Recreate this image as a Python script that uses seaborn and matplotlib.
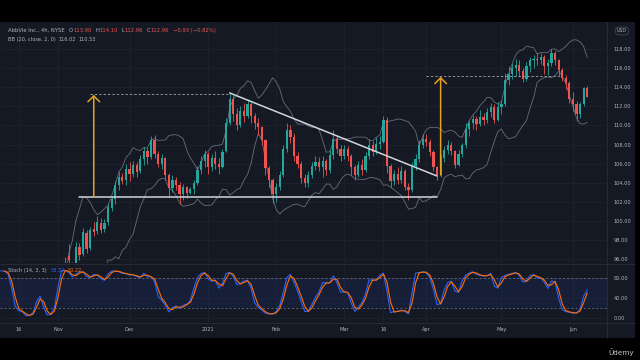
import numpy as np
import pandas as pd
import matplotlib
matplotlib.use("Agg")
import matplotlib.pyplot as plt
from matplotlib.patches import Rectangle
from matplotlib.lines import Line2D
import seaborn as sns

# ---------------- data (daily-resolution reading of the 4h chart) ----------------
HOLIDAYS = ["2020-11-26", "2020-12-25", "2021-01-01", "2021-01-18",
            "2021-02-15", "2021-04-02", "2021-05-31"]
DATES = pd.bdate_range("2020-09-30", "2021-06-07").difference(pd.to_datetime(HOLIDAYS))

OPEN = [87.4,
        # Oct
        87.6, 87.8, 87.5, 88.5, 88.0, 89.1, 89.9, 90.5, 91.0, 90.9, 88.9, 88.2, 88.7, 88.0, 87.3, 86.9, 87.1, 87.6, 87.2, 85.9, 84.9, 84.7,
        # Nov
        85.6, 88.4, 92.5, 96.3, 95.5, 94.6, 97.3, 96.5, 98.7, 97.2, 99.1, 98.9, 99.8, 99.1, 99.9, 101.4, 102.3, 103.8, 104.6, 104.3,
        # Dec
        105.4, 104.9, 105.9, 105.2, 106.5, 107.3, 106.7, 108.5, 107.0, 106.0, 106.6, 104.8, 103.4, 104.3, 103.8, 102.8, 103.5, 102.9, 103.3, 104.0, 105.3, 106.3,
        # Jan
        107.0, 105.6, 106.6, 106.0, 105.6, 107.3, 110.2, 112.8, 111.2, 110.0, 111.5, 111.0, 112.2, 111.0, 110.3, 109.8, 108.5, 105.5, 104.3,
        # Feb
        102.8, 103.5, 104.8, 107.5, 109.5, 108.8, 106.8, 106.0, 104.5, 104.0, 104.8, 105.8, 106.2, 105.6, 106.3, 105.3, 106.9, 108.6, 107.5,
        # Mar
        106.8, 107.5, 106.8, 105.6, 104.8, 105.9, 105.3, 106.8, 107.9, 107.2, 108.1, 108.3, 110.6, 105.8, 104.2, 104.9, 104.3, 105.2, 103.6, 103.2, 105.8, 106.5, 108.0,
        # Apr
        108.6, 108.3, 107.2, 105.6, 104.8, 106.6, 107.4, 108.0, 107.3, 105.9, 107.0, 107.9, 109.6, 110.2, 110.7, 110.1, 110.9, 110.6, 111.4, 111.9, 110.6,
        # May
        111.9, 112.2, 114.8, 115.4, 116.0, 116.3, 115.7, 114.9, 116.2, 116.8, 117.0, 116.8, 117.2, 116.2, 116.5, 117.6, 116.9, 115.8, 115.0, 114.4,
        # Jun
        112.8, 112.2, 111.2, 112.2, 113.90]

HIGH = [88.2,
        88.4, 88.3, 88.6, 89.0, 89.2, 90.0, 90.6, 91.4, 91.6, 91.0, 89.3, 88.9, 89.0, 88.2, 87.6, 87.3, 88.0, 88.0, 87.4, 86.2, 85.4, 85.5,
        88.4, 91.0, 96.2, 97.6, 95.7, 97.8, 97.7, 99.3, 99.0, 99.4, 99.9, 100.5, 100.3, 100.2, 101.9, 102.6, 104.2, 105.1, 105.0, 106.0,
        106.2, 106.3, 106.2, 106.9, 107.7, 107.6, 108.9, 109.0, 107.3, 107.0, 106.7, 105.0, 104.8, 104.6, 104.1, 103.9, 103.7, 103.6, 104.3, 105.8, 106.8, 107.4,
        107.2, 107.0, 107.3, 106.6, 107.5, 110.8, 113.4, 113.2, 111.8, 112.0, 112.3, 112.8, 112.5, 111.3, 110.8, 109.9, 108.6, 105.8, 104.5,
        104.0, 105.2, 108.0, 110.2, 110.0, 109.2, 107.2, 106.3, 104.9, 105.2, 106.2, 106.8, 106.7, 106.8, 106.5, 107.4, 109.5, 109.0, 108.0,
        107.9, 107.8, 107.0, 105.9, 106.3, 106.5, 107.2, 108.6, 108.4, 108.8, 108.9, 111.0, 110.9, 106.0, 105.3, 105.6, 105.7, 105.4, 104.0, 106.2, 107.0, 108.5, 109.1,
        109.1, 108.6, 107.4, 105.8, 107.0, 107.8, 108.5, 108.3, 107.4, 107.4, 108.2, 110.2, 110.6, 111.1, 111.0, 111.6, 111.3, 111.8, 112.3, 112.2, 112.5,
        112.7, 115.5, 116.2, 116.5, 117.0, 116.8, 116.0, 116.6, 117.2, 117.4, 117.6, 117.6, 117.4, 117.0, 118.0, 117.8, 117.0, 116.0, 115.3, 114.6,
        113.5, 112.6, 112.4, 114.0, 114.10]

LOW = [87.0,
       87.1, 86.9, 87.3, 87.6, 87.9, 88.8, 89.5, 90.1, 90.4, 88.9, 87.8, 87.9, 87.7, 87.0, 86.5, 86.3, 86.8, 86.9, 85.9, 84.6, 84.2, 84.0,
       85.3, 88.0, 92.0, 95.4, 94.0, 94.3, 95.9, 96.3, 96.6, 97.0, 98.4, 98.6, 98.7, 98.8, 99.6, 101.0, 101.8, 103.2, 103.9, 103.8,
       104.2, 104.6, 104.6, 105.0, 105.9, 106.0, 106.5, 106.6, 105.6, 105.4, 104.3, 102.5, 103.0, 103.2, 101.8, 102.2, 102.4, 102.8, 102.8, 103.8, 104.9, 105.6,
       104.9, 105.2, 105.4, 104.9, 105.5, 107.2, 110.0, 110.5, 109.5, 109.8, 110.4, 110.8, 110.3, 109.6, 109.0, 108.0, 104.8, 103.6, 101.9,
       102.0, 103.2, 104.6, 107.2, 108.2, 106.3, 105.5, 104.0, 103.5, 103.6, 104.5, 105.3, 105.2, 104.6, 104.8, 105.0, 106.5, 107.1, 106.3,
       106.5, 106.3, 104.8, 104.3, 104.6, 104.8, 105.1, 106.5, 106.8, 107.0, 107.5, 108.2, 105.0, 103.6, 103.8, 103.9, 104.0, 103.2, 102.2, 103.0, 105.3, 106.2, 107.6,
       107.8, 106.8, 105.2, 104.3, 104.6, 106.2, 107.0, 106.9, 105.5, 105.7, 106.7, 107.6, 108.9, 109.6, 109.5, 109.9, 110.0, 110.2, 110.9, 110.2, 110.5,
       111.2, 112.0, 114.2, 114.9, 115.2, 115.2, 114.5, 114.6, 115.6, 116.0, 116.3, 116.4, 115.4, 115.3, 116.2, 116.3, 115.2, 114.6, 113.8, 112.3,
       111.5, 110.5, 110.8, 112.0, 112.96]

CLOSE = [87.6,
         88.0, 87.3, 88.4, 87.8, 89.0, 89.8, 90.4, 91.1, 90.9, 89.2, 88.1, 88.6, 87.9, 87.2, 86.8, 87.0, 87.8, 87.3, 86.1, 84.8, 84.6, 85.2,
         88.1, 90.7, 95.6, 95.9, 94.5, 97.3, 96.4, 98.8, 97.1, 99.0, 98.8, 99.9, 99.0, 99.8, 101.5, 102.3, 103.8, 104.6, 104.2, 105.4,
         104.9, 105.9, 105.1, 106.5, 107.3, 106.7, 108.5, 107.0, 106.0, 106.6, 104.8, 103.4, 104.3, 103.8, 102.8, 103.5, 102.9, 103.3, 104.0, 105.3, 106.3, 107.0,
         105.6, 106.6, 106.0, 105.6, 107.2, 110.2, 112.8, 111.2, 110.0, 111.5, 111.0, 112.2, 111.0, 110.3, 109.8, 108.5, 105.5, 104.3, 102.8,
         103.5, 104.8, 107.5, 109.5, 108.8, 106.8, 106.0, 104.5, 104.0, 104.8, 105.8, 106.2, 105.6, 106.3, 105.3, 106.9, 108.6, 107.5, 106.8,
         107.5, 106.8, 105.6, 104.8, 105.9, 105.3, 106.8, 107.9, 107.2, 108.1, 108.3, 110.6, 105.8, 104.2, 104.9, 104.3, 105.2, 103.6, 103.2, 105.8, 106.5, 108.0, 108.6,
         108.3, 107.2, 105.6, 104.8, 106.6, 107.4, 108.0, 107.3, 105.9, 107.0, 107.9, 109.6, 110.2, 110.7, 110.1, 110.9, 110.6, 111.4, 111.9, 110.6, 111.9,
         112.2, 114.8, 115.4, 116.0, 116.3, 115.7, 114.9, 116.2, 116.8, 117.0, 116.8, 117.2, 116.2, 116.5, 117.6, 116.9, 115.8, 115.0, 114.4, 112.8,
         112.2, 111.2, 112.2, 113.89, 112.96]

TICK_DATES = ["2020-10-16", "2020-11-02", "2020-12-01", "2021-01-04", "2021-02-01",
              "2021-03-01", "2021-03-16", "2021-04-01", "2021-05-03", "2021-06-01"]
TICK_LABELS = ["16", "Nov", "Dec", "2021", "Feb", "Mar", "16", "Apr", "May", "Jun"]
PRICE_TICKS = [96, 98, 100, 102, 104, 106, 108, 110, 112, 114, 116, 118]
STOCH_TICKS = [0, 40, 80]

# drawn annotations (dates, prices)
SUPPORT_DATES = ["2020-11-10", "2021-04-07"]
SUPPORT_PRICE = [102.5, 102.5]
TREND_DATES = ["2021-01-12", "2021-04-07"]
TREND_PRICE = [113.4, 104.7]
TARGET1_DATES = ["2020-11-13", "2021-01-12"]
TARGET1_PRICE = [113.3, 113.3]
ARROW1_DATE = "2020-11-16"
ARROW1_PRICE = [102.5, 113.2]
TARGET2_DATES = ["2021-04-01", "2021-05-25"]
TARGET2_PRICE = [115.2, 115.2]
ARROW2_DATE = "2021-04-08"
ARROW2_PRICE = [104.8, 115.1]

# ---------------- frame ----------------
df = pd.DataFrame({"date": DATES, "open": OPEN, "high": HIGH, "low": LOW, "close": CLOSE})
df["i"] = np.arange(len(df))
pos = {d.strftime("%Y-%m-%d"): i for i, d in zip(df["i"], df["date"])}

df["mid"] = df["close"].rolling(10).mean()
sd = df["close"].rolling(10).std(ddof=0)
df["upper"] = df["mid"] + 2 * sd
df["lower"] = df["mid"] - 2 * sd
hh = df["high"].rolling(7).max()
ll = df["low"].rolling(7).min()
raw = 100 * (df["close"] - ll) / (hh - ll)
df["k"] = raw.rolling(2).mean()
df["d"] = df["k"].rolling(2).mean()

sns.set_theme(style="dark")
plt.rcParams["font.family"] = ["DejaVu Sans"]

BG = "#151924"
GRID = "#1e222d"
TXT = "#b2b5be"
UP = "#26a69a"
DN = "#ef5350"
W, H = 640, 360

fig = plt.figure(figsize=(6.4, 3.6), dpi=100)
fig.patch.set_facecolor("black")


def fx(x):
    return x / W


def fy(y):
    return 1 - y / H


fig.patches.append(Rectangle((0, fy(338)), fx(635), fy(22) - fy(338),
                             transform=fig.transFigure, facecolor=BG, edgecolor="none", zorder=-10))

# x-mapping: Nov 2 sits at pixel 58, 3.576 px per trading day
ANCHOR = pos["2020-11-02"]
PXD = 3.576
XL = (ANCHOR - 58 / PXD, ANCHOR + (607 - 58) / PXD)

ax_p = fig.add_axes([0, fy(263), fx(607), fy(22) - fy(263)])
ax_s = fig.add_axes([0, fy(322), fx(607), fy(264) - fy(322)])

tick_pos = [pos[d] for d in TICK_DATES]
for ax in (ax_p, ax_s):
    ax.set_facecolor("none")
    for s in ax.spines.values():
        s.set_visible(False)
    ax.set_xlim(*XL)
    ax.set_xticks(tick_pos)
    ax.grid(True, color=GRID, lw=0.6)

# ---------------- price panel ----------------
colors = [UP if c >= o else DN for o, c in zip(df["open"], df["close"])]
ax_p.vlines(df["i"], df["low"], df["high"], colors=colors, lw=0.6, zorder=3)
body = (df["close"] - df["open"]).abs().clip(lower=0.05)
ax_p.bar(df["i"], body, bottom=df[["open", "close"]].min(axis=1), width=0.62,
         color=colors, lw=0, zorder=4)

sns.lineplot(x=df["i"], y=df["upper"], ax=ax_p, color="#6a6d78", lw=0.6, legend=False, zorder=2)
sns.lineplot(x=df["i"], y=df["lower"], ax=ax_p, color="#6a6d78", lw=0.6, legend=False, zorder=2)

ax_p.plot([pos[d] for d in SUPPORT_DATES], SUPPORT_PRICE, color="#d1d4dc", lw=1.1, zorder=6)
ax_p.plot([pos[d] for d in TREND_DATES], TREND_PRICE, color="#d1d4dc", lw=1.1, zorder=6)
ax_p.plot([pos[d] for d in TARGET1_DATES], TARGET1_PRICE, color="#8f929b", lw=0.7,
          dashes=(2.5, 2), zorder=6)
ax_p.plot([pos[d] for d in TARGET2_DATES], TARGET2_PRICE, color="#8f929b", lw=0.7,
          dashes=(2.5, 2), zorder=6)
for d, (p0, p1) in ((ARROW1_DATE, ARROW1_PRICE), (ARROW2_DATE, ARROW2_PRICE)):
    ax_p.annotate("", xy=(pos[d], p1), xytext=(pos[d], p0),
                  arrowprops=dict(arrowstyle="->,head_width=0.35,head_length=0.35",
                                  color="#e5a11f", lw=1.1, shrinkA=0, shrinkB=0),
                  zorder=7)

ax_p.set_ylim(95.59, 120.83)
ax_p.yaxis.tick_right()
ax_p.set_yticks(PRICE_TICKS)
ax_p.set_yticklabels([f"{v:.2f}" for v in PRICE_TICKS])
ax_p.tick_params(axis="y", length=0, pad=4.5, labelsize=3.6, colors=TXT)
ax_p.tick_params(axis="x", length=0, labelbottom=False)
ax_p.set_xlabel("")
ax_p.set_ylabel("")

# ---------------- stochastic panel ----------------
ax_s.axhspan(20, 80, color="#2962ff", alpha=0.09, lw=0, zorder=1)
ax_s.axhline(80, color="#787b86", lw=0.5, dashes=(3, 3), zorder=2)
ax_s.axhline(20, color="#787b86", lw=0.5, dashes=(3, 3), zorder=2)
sns.lineplot(x=df["i"], y=df["k"], ax=ax_s, color="#2962ff", lw=0.8, legend=False, zorder=3)
sns.lineplot(x=df["i"], y=df["d"], ax=ax_s, color="#ff6d00", lw=0.8, legend=False, zorder=4)
ax_s.set_ylim(-8, 108)
ax_s.yaxis.tick_right()
ax_s.set_yticks(STOCH_TICKS)
ax_s.set_yticklabels([f"{v:.2f}" for v in STOCH_TICKS])
ax_s.tick_params(axis="y", length=0, pad=4.5, labelsize=3.6, colors=TXT)
ax_s.set_xticks(tick_pos)
ax_s.set_xticklabels(TICK_LABELS)
ax_s.tick_params(axis="x", length=0, pad=3.5, labelsize=3.6, colors=TXT)
ax_s.set_xlabel("")
ax_s.set_ylabel("")

# separators
for (x0, y0, x1, y1) in ((607, 22, 607, 338), (0, 263.5, 635, 263.5), (0, 322.5, 635, 322.5)):
    fig.add_artist(Line2D([fx(x0), fx(x1)], [fy(y0), fy(y1)], color="#2a2e39", lw=0.6,
                          transform=fig.transFigure))

# ---------------- texts ----------------
renderer = fig.canvas.get_renderer()


def chain(x, y, pieces, fs):
    """Place text pieces one after another starting at pixel x."""
    for s, c, gap in pieces:
        t = fig.text(fx(x), fy(y), s, fontsize=fs, color=c, va="center")
        x = t.get_window_extent(renderer).x1 + gap
    return x


FS = 3.8
chain(8, 30.5, [("AbbVie Inc., 4h, NYSE", TXT, 3.5)], FS)
xh = 69
for letter, val in (("O", "113.90"), ("H", "114.10"), ("L", "112.96"), ("C", "112.96")):
    xh = chain(xh, 30.5, [(letter, TXT, 0.4), (val, DN, 3.5)], FS)
chain(xh, 30.5, [("\u22120.93 (\u22120.82%)", DN, 0)], FS)

chain(8, 39.5, [("BB (20, close, 2, 0)", TXT, 3), ("116.02", TXT, 2.5), ("110.53", TXT, 0)], 3.6)
chain(8, 270.5, [("Stoch (14, 3, 3)", TXT, 3.5), ("58.32", "#2962ff", 3),
                 ("50.22", "#ff6d00", 0)], 3.6)

fig.text(fx(622), fy(31), "USD", fontsize=3.4, color=TXT, va="center", ha="center",
         bbox=dict(boxstyle="round,pad=0.3,rounding_size=0.6", fc="none", ec="#4a4e59", lw=0.5))

fig.text(fx(634), fy(352), "\u016Ademy", fontsize=5.2, color="#c8c8c8", va="center", ha="right")

fig.savefig("out.png", dpi=100, facecolor=fig.get_facecolor())
